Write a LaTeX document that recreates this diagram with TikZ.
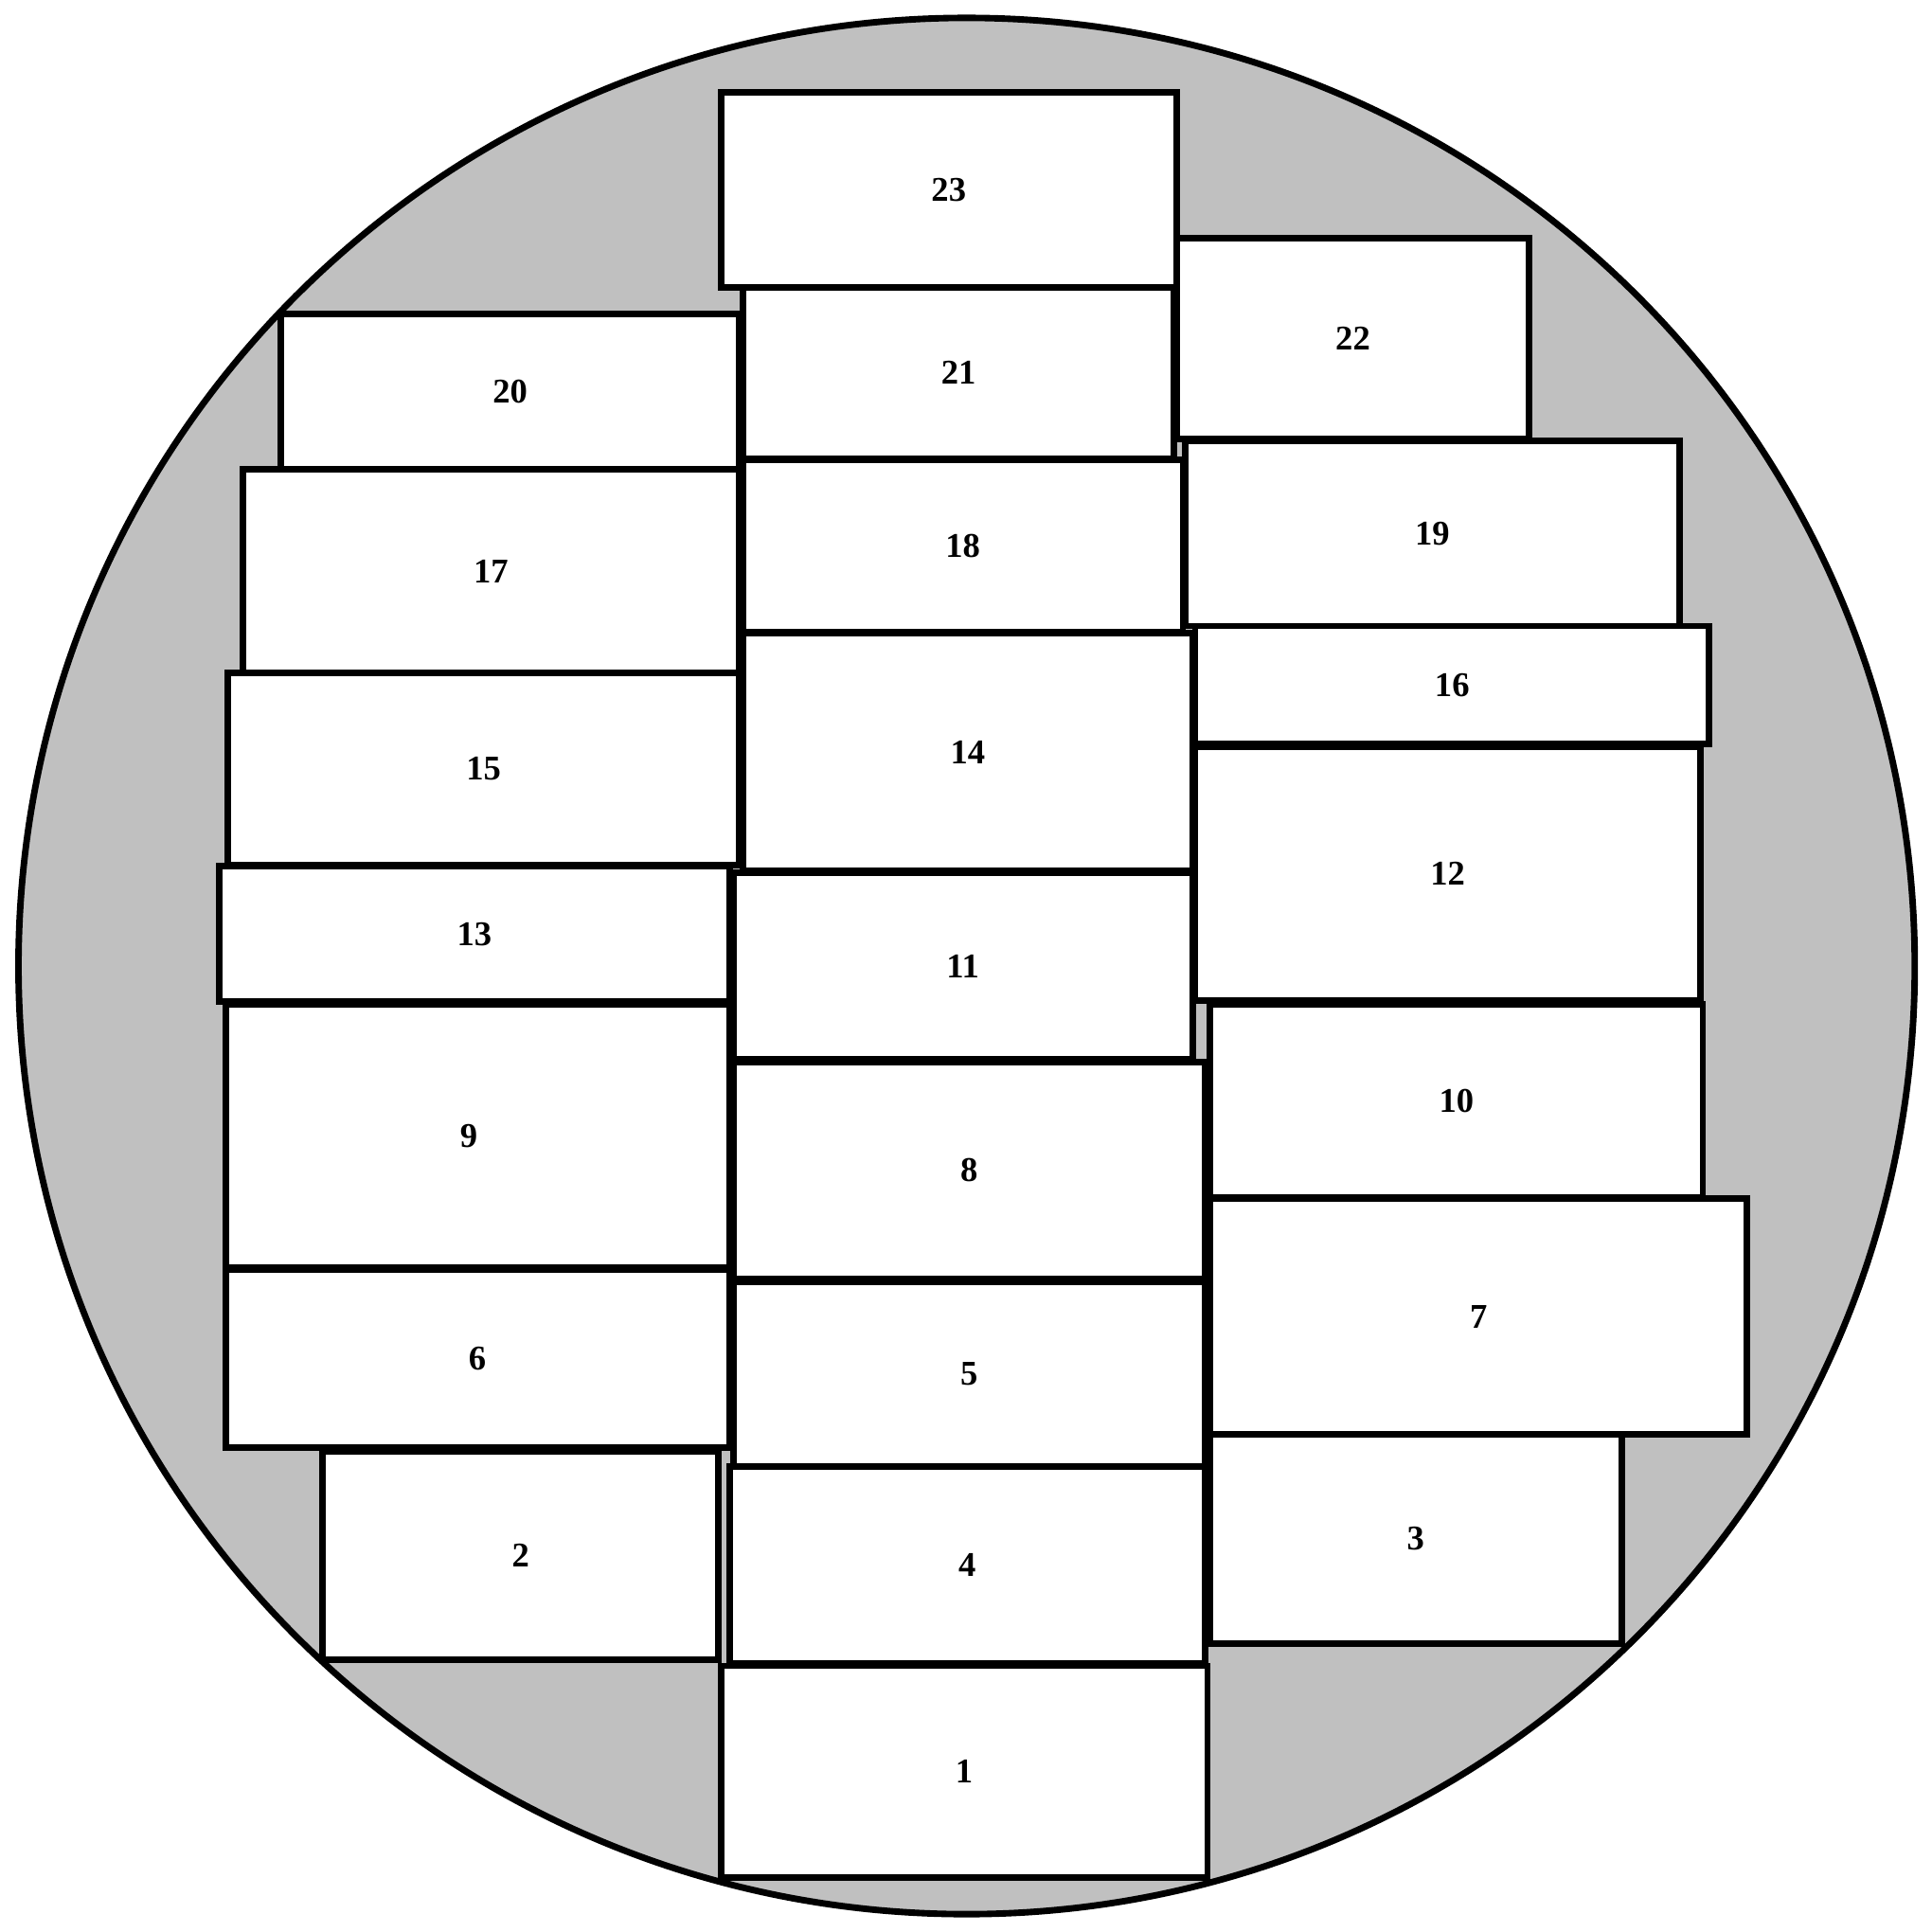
\documentclass[tikz,border=0pt]{standalone}
\usepackage{fontspec}
\setmainfont{Liberation Serif}
\definecolor{bggray}{RGB}{192,192,192}
\tikzset{
  blk/.style={draw=black, fill=white, line width=1.5pt, inner sep=0pt, outer sep=0pt,
    font=\fontsize{8}{9}\selectfont\bfseries},
  disc/.style={draw=black, fill=bggray, line width=1.5pt}
}
\newcommand\drawbox[6]{%
  \node[blk, minimum width={(#4-#2)*0.01cm}, minimum height={(#5-#3)*0.01cm}]
    (#1) at ({(#2+#4)/2},{(#3+#5)/2}) {#6};}
\begin{document}
\begin{tikzpicture}[x=0.01cm, y=-0.01cm]
\useasboundingbox (0,0) rectangle (1568,1568);
\fill[white] (0,0) rectangle (1568,1568);
\draw[disc] (784.5,784) circle[radius=769.5];
% left column
\drawbox{b20}{228}{255}{600}{381}{20}
\drawbox{b17}{197}{381}{600}{546}{17}
\drawbox{b15}{185}{546}{600}{702}{15}
\drawbox{b13}{178}{703}{592}{813}{13}
\drawbox{b9}{183}{815}{592}{1029}{9\kern0.14cm}
\drawbox{b6}{183}{1030}{592}{1175}{6}
\drawbox{b2}{262}{1178}{583}{1347}{2}
% middle column
\drawbox{b21}{603}{233}{953}{372}{21}
\drawbox{b23}{585}{75}{955}{233}{23}
\drawbox{b18}{603}{373}{960}{513}{18}
\drawbox{b14}{603}{514}{968}{707}{14}
\drawbox{b11}{595}{708}{968}{860}{11}
\drawbox{b8}{595}{862}{978}{1038}{8}
\drawbox{b5}{595}{1040}{978}{1190}{5}
\drawbox{b4}{592}{1190}{978}{1350}{4}
\drawbox{b1}{585}{1352}{980}{1524}{1}
% right column
\drawbox{b22}{955}{193}{1241}{356}{22}
\drawbox{b19}{962}{358}{1363}{508}{19}
\drawbox{b16}{970}{508}{1387}{604}{16}
\drawbox{b12}{970}{606}{1380}{812}{12}
\drawbox{b10}{982}{815}{1382}{972}{10}
\drawbox{b3}{982}{1164}{1316}{1334}{3}
\drawbox{b7}{982}{973}{1418}{1164}{7}
\end{tikzpicture}
\end{document}
